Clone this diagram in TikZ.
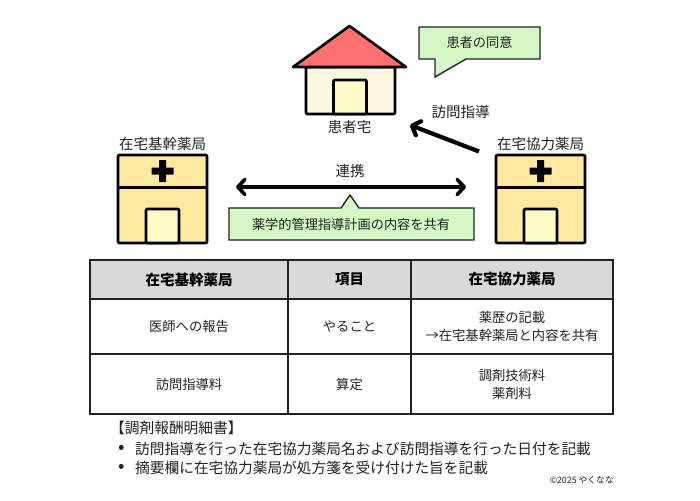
\documentclass[tikz,border=0pt]{standalone}
\usepackage{fontspec}
\setmainfont{Noto Sans CJK JP}
\usetikzlibrary{positioning, arrows.meta}
\definecolor{roofred}{HTML}{FF7070}
\definecolor{wallcream}{HTML}{FFF8E1}
\definecolor{doorcream}{HTML}{FFFBC8}
\definecolor{shopyellow}{HTML}{FFE99E}
\definecolor{notegreen}{HTML}{D4F7C5}
\definecolor{headgray}{HTML}{D9D9D9}
\definecolor{inkgray}{HTML}{222222}
\tikzset{
	outline/.style={
		draw=black,
		line width=2.6pt,
		line join=round,
	},
	wall/.style={
		outline,
		outer sep=0pt,
		inner sep=0pt,
		rounded corners=1pt,
	},
	note/.style={
		draw=inkgray,
		line width=1.4pt,
		fill=notegreen,
		line join=miter,
	},
	labe/.style={
		font={\fontsize{14.5}{17}\selectfont},
		text=inkgray,
		inner sep=0pt,
		align=center,
	},
	notelabe/.style={
		labe,
		font={\fontsize{13.2}{16}\selectfont},
	},
	cell/.style={
		draw=inkgray,
		line width=1.9pt,
		font={\fontsize{13.3}{18}\selectfont},
		text=inkgray,
		align=center,
		inner sep=0pt,
		outer sep=0pt,
	},
	headcell/.style={
		cell,
		fill=headgray,
		font={\fontsize{14.5}{17}\selectfont\bfseries},
		text=black,
		minimum height=39pt,
	},
	rowone/.style={cell, minimum height=55pt},
	rowtwo/.style={cell, minimum height=60pt},
	colone/.style={minimum width=198pt},
	coltwo/.style={minimum width=123pt},
	colthree/.style={minimum width=202pt},
	listtext/.style={
		font={\fontsize{14.7}{17}\selectfont},
		text=inkgray,
		inner sep=0pt,
		anchor=west,
	},
	thick arrow/.style={
		line width=3.6pt,
		line cap=round,
		-{Straight Barb[length=7pt,width=15pt,round]},
	},
}

\begin{document}
\begin{tikzpicture}[x=1pt,y=-1pt]
\useasboundingbox (0,0) rectangle (700,500);

% patient home
\node[wall, fill=wallcream, minimum width=89pt, minimum height=47pt] (home) at (350.5,90.5) {};
\node[wall, fill=doorcream, minimum width=33pt, minimum height=34pt] (homedoor) at (350,97) {};
\draw[outline, fill=roofred] (293,67) -- (349.5,26) -- (406,67) -- cycle;
\node[labe] (homelabel) at (349.5,127) {患者宅};

% consent note
\draw[note] (419,27) -- (540,27) -- (540,59) -- (466,59) -- (435,77) -- (435,59) -- (419,59) -- cycle;
\node[notelabe] (consent) at (479.5,42) {患者の同意};

% pharmacies
\foreach \name/\cx/\txt in {base/162.5/在宅基幹薬局, partner/540.5/在宅協力薬局}{
	\node[wall, fill=shopyellow, minimum width=89pt, minimum height=88pt] (\name) at (\cx,199) {};
	\draw[outline] (\name.west |- 0,187.5) -- (\name.east |- 0,187.5);
	\node[wall, fill=doorcream, minimum width=33pt, minimum height=34pt] (\name door) at (\cx,226) {};
	\node[fill=black, inner sep=0pt, minimum width=22pt, minimum height=7pt, rounded corners=0.5pt] (\name crossh) at (\cx,171) {};
	\node[fill=black, inner sep=0pt, minimum width=7pt, minimum height=22pt, rounded corners=0.5pt] (\name crossv) at (\cx,171) {};
	\node[labe] (\name label) at (\cx,144) {\txt};
}

% links
\coordinate (visitstart) at (479,151.5);
\coordinate (visitend) at (410,125);
\draw[thick arrow, line width=4.2pt, line cap=butt] (visitstart) -- (visitend);
\node[labe] (visit) at (460.5,112) {訪問指導};

\coordinate (linkleft) at (236,187);
\coordinate (linkright) at (466,187);
\draw[thick arrow, {Straight Barb[length=7pt,width=15pt,round]}-{Straight Barb[length=7pt,width=15pt,round]}] (linkleft) -- (linkright);
\node[labe] (link) at (350,171) {連携};

% shared plan note
\draw[note] (229,208) -- (341,208) -- (350,195) -- (359,208) -- (474,208) -- (474,240) -- (229,240) -- cycle;
\node[notelabe] (plan) at (351,224) {薬学的管理指導計画の内容を共有};

% table
\node[headcell, colone] (h1) at (189,279.5) {在宅基幹薬局};
\node[headcell, coltwo, right=0pt of h1] (h2) {項目};
\node[headcell, colthree, right=0pt of h2] (h3) {在宅協力薬局};
\node[rowone, colone, below=0pt of h1] (a1) {医師への報告};
\node[rowone, coltwo, below=0pt of h2] (a2) {やること};
\node[rowone, colthree, below=0pt of h3] (a3) {薬歴の記載\\→在宅基幹薬局と内容を共有};
\node[rowtwo, colone, below=0pt of a1] (b1) {訪問指導料};
\node[rowtwo, coltwo, below=0pt of a2] (b2) {算定};
\node[rowtwo, colthree, below=0pt of a3] (b3) {調剤技術料\\薬剤料};

% notes below
\node[listtext] (listhead) at (110,428) {【調剤報酬明細書】};
\node[listtext, font={\fontsize{19}{19}\selectfont}] (bulletone) at (118.5,449.5) {•};
\node[listtext] (itemone) at (135,449) {訪問指導を行った在宅協力薬局名および訪問指導を行った日付を記載};
\node[listtext, font={\fontsize{19}{19}\selectfont}] (bullettwo) at (118.5,468.5) {•};
\node[listtext] (itemtwo) at (135,468) {摘要欄に在宅協力薬局が処方箋を受け付けた旨を記載};
\node[listtext, anchor=east, font={\fontsize{8.8}{10}\selectfont}] (credit) at (614,480) {©2025 やくなな};
\end{tikzpicture}
\end{document}
